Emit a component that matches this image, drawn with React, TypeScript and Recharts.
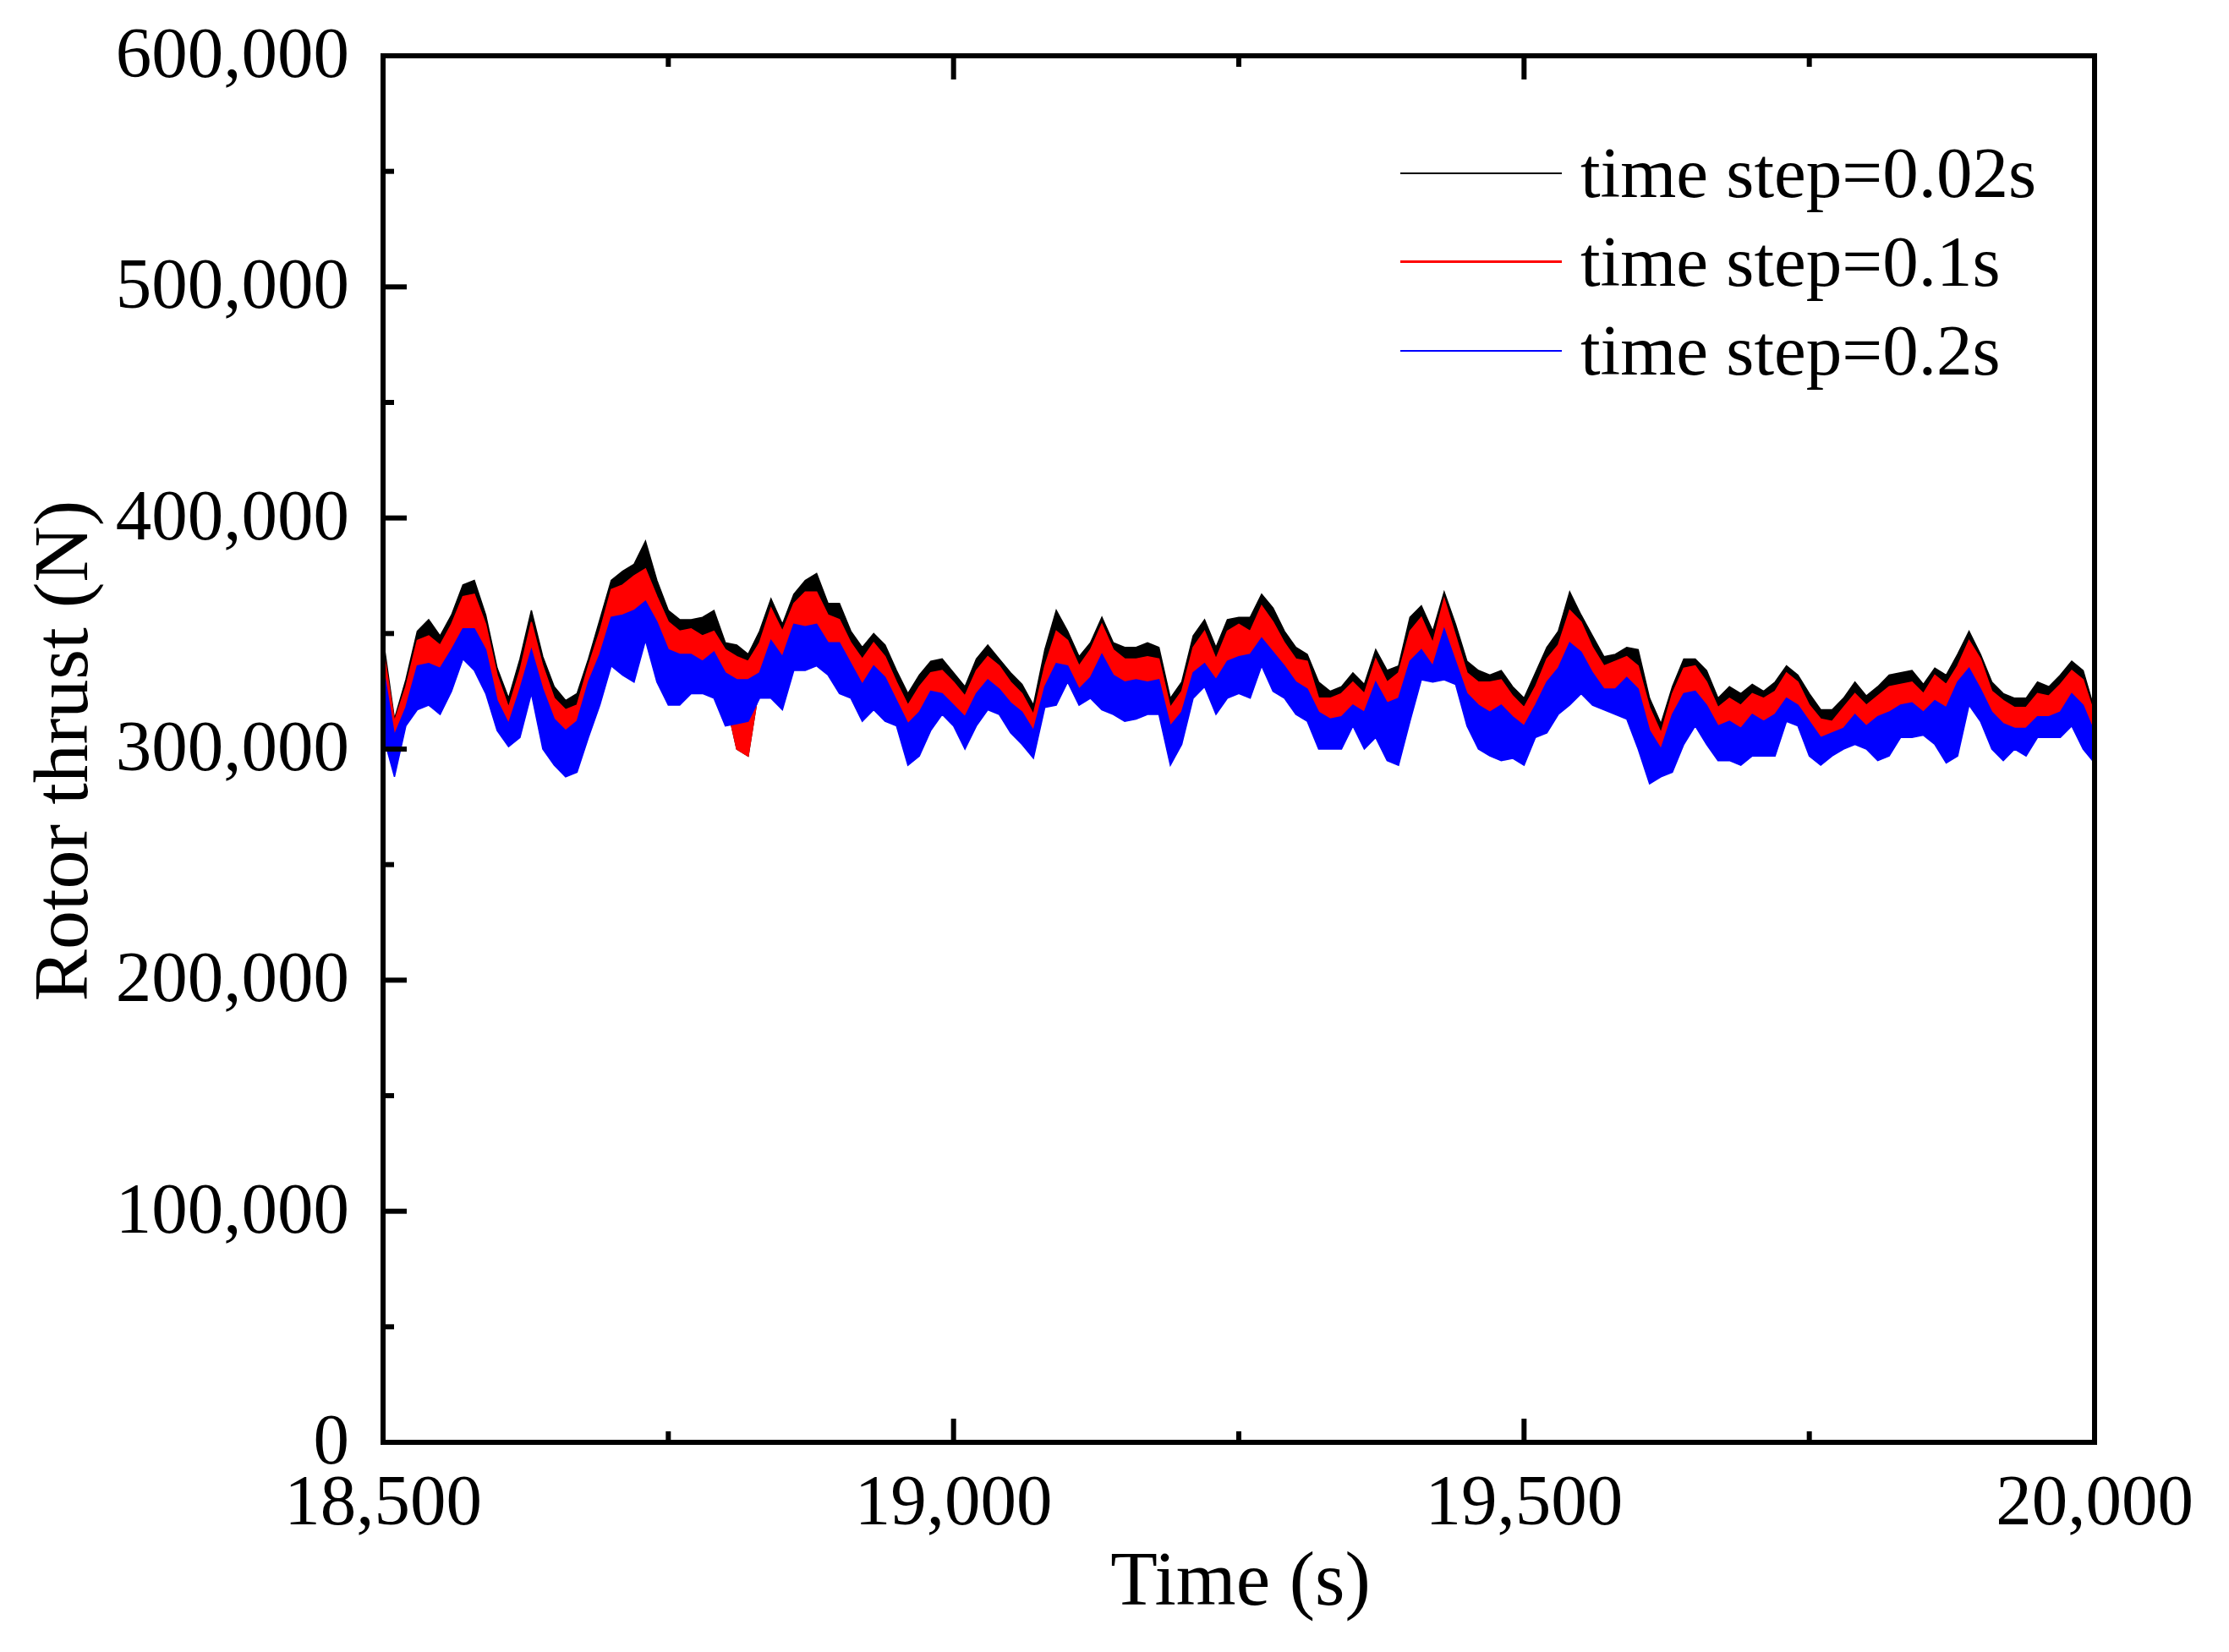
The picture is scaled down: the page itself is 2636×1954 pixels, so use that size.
import { ComposedChart, Area, XAxis, YAxis, Legend } from "recharts";

const START_TIME = 18500;
const TIME_STEP = 10;

// time step = 0.02 s, upper envelope
const blackHi = [
  348, 313, 330, 351, 356, 349, 358, 371, 373, 358,
  335, 322, 339, 360, 340, 327, 321, 324, 339, 356,
  373, 377, 380, 390, 373, 360, 356, 356, 357, 360,
  346, 345, 341, 351, 365, 354, 367, 373, 376, 363,
  363, 351, 344, 350, 345, 334, 324, 332, 338, 339,
  333, 327, 339, 345, 339, 333, 328, 319, 343, 360,
  351, 340, 346, 357, 346, 344, 344, 346, 344, 322,
  329, 349, 356, 344, 356, 357, 357, 367, 361, 351,
  344, 341, 329, 325, 327, 333, 328, 343, 334, 336,
  357, 362, 351, 368, 354, 338, 334, 332, 334, 327,
  322, 333, 344, 351, 368, 358, 349, 340, 341, 344,
  343, 322, 311, 327, 339, 339, 334, 322, 327, 324,
  328, 325, 329, 336, 332, 324, 317, 317, 322, 329,
  323, 327, 332, 333, 334, 328, 335, 332, 341, 351,
  341, 329, 324, 322, 322, 329, 327, 332, 338, 334,
  317,
];

// time step = 0.1 s
const redHi = [
  344, 312, 327, 347, 349, 345, 354, 366, 367, 354,
  332, 318, 334, 355, 336, 322, 317, 319, 336, 351,
  369, 371, 375, 378, 366, 355, 351, 352, 349, 351,
  343, 340, 338, 346, 361, 351, 363, 368, 368, 358,
  356, 346, 339, 346, 340, 329, 319, 327, 333, 334,
  329, 323, 334, 340, 336, 329, 324, 315, 336, 351,
  347, 336, 343, 354, 343, 339, 339, 340, 339, 318,
  325, 344, 351, 339, 351, 354, 351, 362, 355, 346,
  339, 338, 322, 322, 324, 329, 324, 339, 329, 333,
  351, 357, 346, 365, 349, 333, 329, 329, 330, 323,
  318, 327, 339, 345, 360, 355, 344, 336, 338, 340,
  336, 318, 307, 324, 335, 336, 329, 318, 322, 319,
  324, 322, 325, 333, 329, 319, 313, 312, 318, 324,
  319, 323, 327, 328, 329, 324, 332, 328, 336, 347,
  339, 325, 321, 318, 318, 324, 323, 328, 334, 330,
  315,
];

const redLo = [
  320, 298, 315, 326, 328, 325, 334, 346, 344, 334,
  315, 306, 316, 334, 314, 303, 298, 302, 318, 330,
  347, 345, 345, 356, 342, 331, 330, 333, 331, 332,
  322, 300, 297, 328, 335, 329, 345, 344, 346, 340,
  336, 330, 320, 327, 322, 316, 302, 307, 317, 320,
  315, 307, 318, 324, 321, 314, 310, 302, 323, 328,
  333, 323, 327, 329, 324, 321, 322, 322, 323, 302,
  309, 328, 332, 323, 330, 332, 332, 342, 334, 329,
  322, 319, 308, 307, 307, 315, 308, 317, 308, 308,
  325, 337, 333, 341, 333, 317, 310, 307, 307, 305,
  301, 312, 318, 325, 332, 334, 326, 322, 321, 322,
  313, 296, 294, 303, 313, 318, 311, 303, 304, 302,
  306, 305, 306, 318, 315, 305, 299, 303, 305, 309,
  306, 305, 307, 312, 313, 312, 312, 306, 313, 327,
  319, 308, 303, 305, 303, 310, 310, 311, 317, 310,
  302,
];

// time step = 0.2 s
const blueHi = [
  336, 306, 318, 336, 337, 335, 343, 352, 352, 343,
  321, 311, 326, 343, 326, 313, 308, 312, 329, 341,
  357, 358, 360, 364, 355, 343, 341, 341, 338, 342,
  333, 330, 330, 333, 347, 340, 354, 353, 354, 346,
  346, 337, 328, 336, 331, 321, 311, 316, 325, 324,
  319, 314, 324, 330, 326, 320, 316, 308, 327, 337,
  336, 326, 331, 341, 332, 329, 330, 329, 330, 310,
  316, 333, 337, 330, 338, 340, 341, 348, 342, 336,
  329, 326, 316, 313, 314, 319, 316, 329, 320, 322,
  338, 343, 336, 352, 338, 324, 319, 316, 319, 314,
  310, 319, 329, 335, 346, 342, 333, 326, 326, 331,
  326, 308, 300, 315, 324, 325, 319, 310, 312, 309,
  315, 312, 315, 322, 319, 312, 305, 307, 309, 315,
  310, 314, 316, 319, 320, 316, 321, 318, 329, 335,
  326, 316, 311, 309, 309, 314, 314, 316, 324, 319,
  307,
];

const blueLo = [
  306, 288, 310, 317, 319, 315, 325, 339, 334, 324,
  308, 301, 305, 324, 300, 293, 288, 290, 305, 319,
  336, 332, 329, 347, 329, 319, 319, 324, 324, 322,
  310, 311, 312, 322, 322, 317, 334, 334, 336, 332,
  324, 322, 312, 317, 312, 310, 293, 297, 308, 315,
  310, 300, 310, 317, 315, 307, 302, 296, 318, 319,
  329, 319, 322, 317, 315, 312, 313, 315, 315, 293,
  302, 322, 327, 315, 322, 324, 322, 336, 325, 322,
  315, 312, 300, 300, 300, 310, 300, 305, 295, 293,
  312, 330, 329, 330, 328, 310, 300, 297, 295, 296,
  293, 305, 307, 315, 319, 324, 319, 317, 315, 313,
  300, 285, 288, 290, 302, 310, 302, 295, 295, 293,
  297, 297, 297, 312, 310, 297, 293, 297, 300, 302,
  300, 295, 297, 305, 305, 306, 302, 294, 297, 319,
  312, 300, 295, 300, 297, 305, 305, 305, 310, 300,
  294,
];

const X_TICKS = [18500, 18750, 19000, 19250, 19500, 19750, 20000];
const Y_TICKS = [
  0, 50000, 100000, 150000, 200000, 250000, 300000,
  350000, 400000, 450000, 500000, 550000, 600000,
];

const SERIES = [
  { key: "dt002", name: "time step=0.02s", color: "#000000", legendWidth: 2 },
  { key: "dt01", name: "time step=0.1s", color: "#ff0000", legendWidth: 3 },
  { key: "dt02", name: "time step=0.2s", color: "#0000ff", legendWidth: 2 },
];

const data = blackHi.map((_, i) => ({
  t: START_TIME + i * TIME_STEP,
  dt002: [redLo[i] * 1000, blackHi[i] * 1000],
  dt01: [redLo[i] * 1000, redHi[i] * 1000],
  dt02: [blueLo[i] * 1000, blueHi[i] * 1000],
}));

const FONT = "'Liberation Serif', 'Times New Roman', Times, serif";
const FRAME = 6;
const MAJOR_LEN = 28;
const MINOR_LEN = 13;

const fmt = (v: number) => v.toLocaleString("en-US");
const isMajorY = (v: number) => v % 100000 === 0;
const isMajorX = (v: number) => (v - 18500) % 500 === 0;

function LeftTick({ x, y, payload }: any) {
  const major = isMajorY(payload.value);
  return (
    <g>
      <line x1={x} x2={x + (major ? MAJOR_LEN : MINOR_LEN)} y1={y} y2={y} stroke="#000" strokeWidth={FRAME} />
      {major && (
        <text x={x - 40} y={y + 25} textAnchor="end" fontSize={85} fontFamily={FONT} fill="#000">
          {fmt(payload.value)}
        </text>
      )}
    </g>
  );
}

function RightTick({ x, y, payload }: any) {
  const len = isMajorY(payload.value) ? MAJOR_LEN : MINOR_LEN;
  return <line x1={x} x2={x - len} y1={y} y2={y} stroke="#000" strokeWidth={FRAME} />;
}

function BottomTick({ x, y, payload }: any) {
  const major = isMajorX(payload.value);
  return (
    <g>
      <line x1={x} x2={x} y1={y} y2={y - (major ? MAJOR_LEN : MINOR_LEN)} stroke="#000" strokeWidth={FRAME} />
      {major && (
        <text x={x} y={y + 97} textAnchor="middle" fontSize={85} fontFamily={FONT} fill="#000">
          {fmt(payload.value)}
        </text>
      )}
    </g>
  );
}

function TopTick({ x, y, payload }: any) {
  const len = isMajorX(payload.value) ? MAJOR_LEN : MINOR_LEN;
  return <line x1={x} x2={x} y1={y} y2={y + len} stroke="#000" strokeWidth={FRAME} />;
}

function LegendBox() {
  return (
    <div style={{ fontFamily: FONT }}>
      {SERIES.map((s) => (
        <div key={s.key} style={{ display: "flex", alignItems: "center", height: 105 }}>
          <div style={{ width: 191, height: s.legendWidth, background: s.color, marginRight: 22 }} />
          <span style={{ fontSize: 85, lineHeight: 1, color: "#000", whiteSpace: "nowrap" }}>{s.name}</span>
        </div>
      ))}
    </div>
  );
}

const axisLine = { stroke: "#000", strokeWidth: FRAME, strokeLinecap: "square" as const };

export default function App() {
  return (
    <div style={{ position: "absolute", left: 0, top: 0, background: "#fff" }}>
      <ComposedChart width={2636} height={1954} data={data} margin={{ top: 0, right: 0, bottom: 0, left: 0 }}>
        <XAxis
          xAxisId="b"
          dataKey="t"
          type="number"
          domain={[18500, 20000]}
          ticks={X_TICKS}
          interval={0}
          height={248}
          tickSize={0}
          tickMargin={0}
          tickLine={false}
          axisLine={axisLine}
          tick={BottomTick}
        />
        <XAxis
          xAxisId="top"
          orientation="top"
          dataKey="t"
          type="number"
          domain={[18500, 20000]}
          ticks={X_TICKS}
          interval={0}
          height={66}
          tickSize={0}
          tickMargin={0}
          tickLine={false}
          axisLine={axisLine}
          tick={TopTick}
        />
        <YAxis
          yAxisId="l"
          type="number"
          domain={[0, 600000]}
          ticks={Y_TICKS}
          interval={0}
          width={453}
          tickSize={0}
          tickMargin={0}
          tickLine={false}
          axisLine={axisLine}
          tick={LeftTick}
        />
        <YAxis
          yAxisId="r"
          orientation="right"
          type="number"
          domain={[0, 600000]}
          ticks={Y_TICKS}
          interval={0}
          width={159}
          tickSize={0}
          tickMargin={0}
          tickLine={false}
          axisLine={axisLine}
          tick={RightTick}
        />
        {SERIES.map((s) => (
          <Area
            key={s.key}
            xAxisId="b"
            yAxisId="l"
            type="linear"
            dataKey={s.key}
            name={s.name}
            stroke={s.color}
            strokeWidth={1.5}
            fill={s.color}
            fillOpacity={1}
            dot={false}
            activeDot={false}
            isAnimationActive={false}
          />
        ))}
        <Legend
          layout="vertical"
          align="center"
          verticalAlign="middle"
          wrapperStyle={{ left: 1656, top: 152, width: 760 }}
          content={() => <LegendBox />}
        />
        <text x={1467} y={1898} textAnchor="middle" fontSize={91} fontFamily={FONT} fill="#000">
          Time (s)
        </text>
        <text
          x={103}
          y={888}
          transform="rotate(-90, 103, 888)"
          textAnchor="middle"
          fontSize={92}
          fontFamily={FONT}
          fill="#000"
        >
          Rotor thrust (N)
        </text>
      </ComposedChart>
    </div>
  );
}
